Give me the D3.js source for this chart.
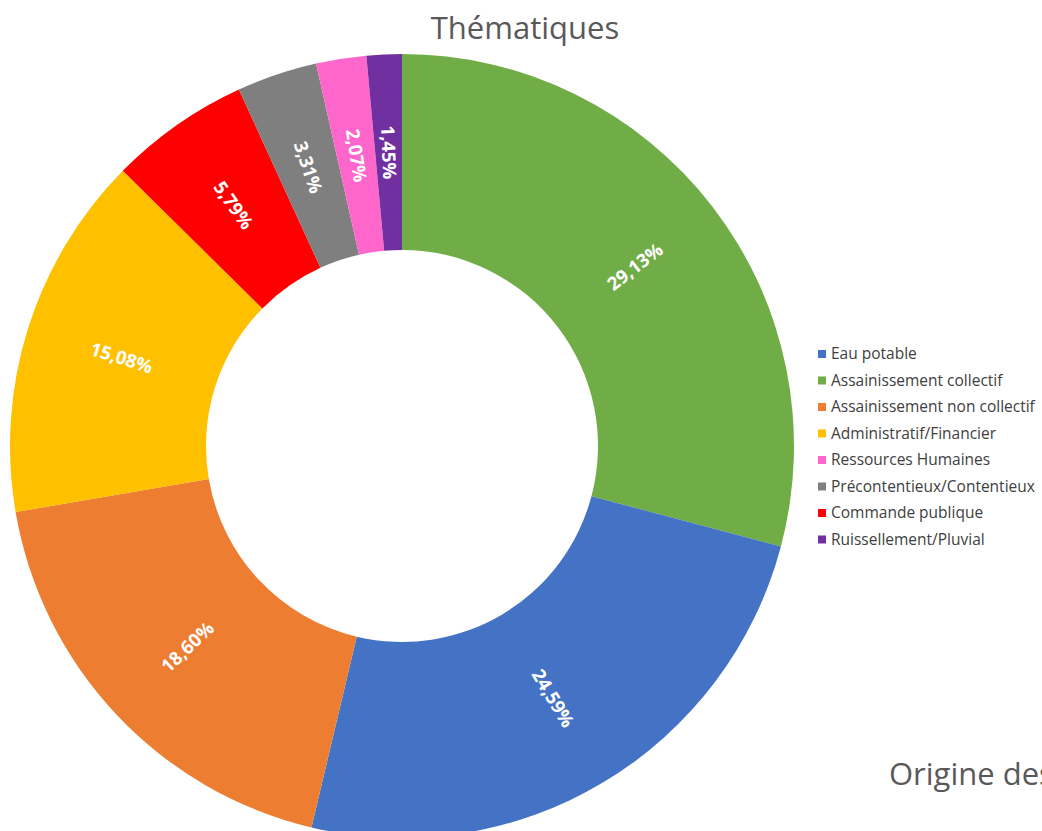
<!DOCTYPE html>
<html>
<head>
<meta charset="utf-8">
<script src="https://cdn.jsdelivr.net/npm/d3@7"></script>
<style>
  body { margin: 0; background: #fff; overflow: hidden; }
  svg { display: block; font-family: "Open Sans", sans-serif; }
</style>
</head>
<body>
<div id="chart"></div>
<script>
// slices, clockwise from 12 o'clock
var sliceNames = ["Assainissement collectif", "Eau potable", "Assainissement non collectif",
  "Administratif/Financier", "Commande publique", "Précontentieux/Contentieux",
  "Ressources Humaines", "Ruissellement/Pluvial"];
var sliceValues = [29.13, 24.59, 18.60, 15.08, 5.79, 3.31, 2.07, 1.45];
var sliceLabels = ["29,13%", "24,59%", "18,60%", "15,08%", "5,79%", "3,31%", "2,07%", "1,45%"];

// legend order
var legendNames = ["Eau potable", "Assainissement collectif", "Assainissement non collectif",
  "Administratif/Financier", "Ressources Humaines", "Précontentieux/Contentieux",
  "Commande publique", "Ruissellement/Pluvial"];
var colors = ["#4472C4", "#70AD47", "#ED7D31", "#FFC000", "#FF66CC", "#7F7F7F", "#FF0000", "#7030A0"];

var width = 1042, height = 831;
var cx = 402, cy = 446, outerR = 392, innerR = 196;

var color = d3.scaleOrdinal().domain(legendNames).range(colors);

var svg = d3.select("#chart").append("svg")
  .attr("width", width)
  .attr("height", height);

svg.append("text")
  .attr("x", 525)
  .attr("y", 39)
  .attr("text-anchor", "middle")
  .style("font-size", "31px")
  .style("fill", "#595959")
  .text("Thématiques");

var data = sliceNames.map(function (n, i) { return { name: n, value: sliceValues[i], label: sliceLabels[i] }; });

var pie = d3.pie().sort(null).value(function (d) { return d.value; });
var arc = d3.arc().innerRadius(innerR).outerRadius(outerR);
var labelArc = d3.arc().innerRadius((innerR + outerR) / 2).outerRadius((innerR + outerR) / 2);

var g = svg.append("g").attr("transform", "translate(" + cx + "," + cy + ")");

var arcs = pie(data);

g.selectAll("path")
  .data(arcs)
  .enter()
  .append("path")
  .attr("d", arc)
  .attr("fill", function (d) { return color(d.data.name); });

g.selectAll("text.lbl")
  .data(arcs)
  .enter()
  .append("text")
  .attr("class", "lbl")
  .attr("transform", function (d) {
    var p = labelArc.centroid(d);
    var a = (d.startAngle + d.endAngle) / 2 * 180 / Math.PI - 90;
    if (a > 90) a -= 180;
    return "translate(" + p[0] + "," + p[1] + ") rotate(" + a + ")";
  })
  .attr("text-anchor", "middle")
  .attr("dy", "0.35em")
  .style("font-size", "18.5px")
  .style("font-weight", "bold")
  .style("fill", "#fff")
  .text(function (d) { return d.data.label; });

var legend = svg.append("g").attr("transform", "translate(818,350)");

var item = legend.selectAll("g")
  .data(legendNames)
  .enter()
  .append("g")
  .attr("transform", function (d, i) { return "translate(0," + (i * 26.5) + ")"; });

item.append("rect")
  .attr("width", 8)
  .attr("height", 8)
  .attr("fill", function (d) { return color(d); });

item.append("text")
  .attr("x", 13)
  .attr("y", 9)
  .style("font-size", "15.5px")
  .style("fill", "#404040")
  .text(function (d) { return d; });

svg.append("text")
  .attr("x", 889)
  .attr("y", 785)
  .style("font-size", "31px")
  .style("fill", "#595959")
  .text("Origine des");
</script>
</body>
</html>
